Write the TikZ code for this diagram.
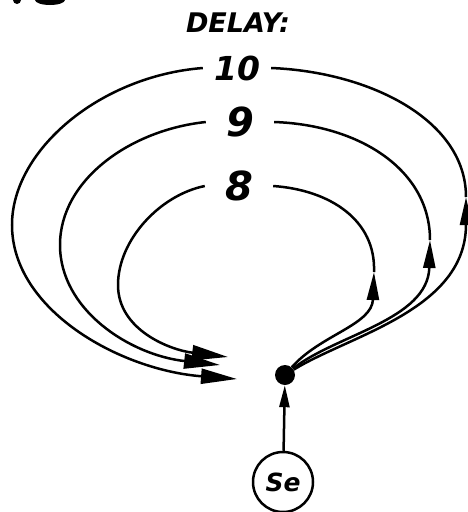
\documentclass[tikz,border=0pt]{standalone}
\usepackage{fontspec}
\setsansfont{DejaVu Sans}
\usetikzlibrary{arrows.meta}
\begin{document}
\begin{tikzpicture}[x=1pt,y=-1pt,
  curve/.style={line width=2.5pt},
  bigtip/.style={-{Triangle[length=36pt,width=15pt]}},
  midtip/.style={-{Triangle[length=28pt,width=12pt]}},
  uptip/.style={-{Triangle[length=22pt,width=10pt]}},
  lbl/.style={font=\sffamily\bfseries\itshape\fontsize{40}{40}\selectfont, inner sep=0pt, minimum width=68pt},
  ttl/.style={font=\sffamily\bfseries\itshape\fontsize{27}{27}\selectfont},
  hub/.style={circle, fill=black, minimum size=20pt, inner sep=0pt},
  src/.style={circle, draw, line width=2.5pt, minimum size=60pt, inner sep=0pt,
    font=\sffamily\bfseries\itshape\fontsize{25}{25}\selectfont}]
\useasboundingbox (0,0) rectangle (467,512);
% cropped fragment at top left
\fill (17,0) ellipse (4 and 4);
\fill (50,0) ellipse (15 and 5);
\node[ttl] (title) at (238,23) {DELAY:};
\node[lbl, font=\sffamily\bfseries\itshape\fontsize{33}{33}\selectfont] (d10) at (237,68) {10};
\node[lbl] (d9) at (240,122) {9};
\node[lbl] (d8) at (239,186) {8};
\node[hub] (hub) at (285,375) {};
\node[src] (se) at (283,482) {Se};
\coordinate (e10) at (237,379);
\coordinate (e9) at (220,365);
\coordinate (e8) at (228,357);
\coordinate (a10) at (466,197);
\coordinate (a9) at (430,240);
\coordinate (a8) at (374,272);
% left halves
\draw[curve,bigtip] (d10.west) .. controls (100,76) and (12,150) .. (12,225)
   .. controls (12,310) and (120,370) .. (e10);
\draw[curve,bigtip] (d9.west) .. controls (130,130) and (60,180) .. (60,245)
   .. controls (60,310) and (130,355) .. (e9);
\draw[curve,bigtip] (d8.west) .. controls (160,195) and (118,240) .. (118,285)
   .. controls (118,330) and (170,350) .. (e8);
% right halves
\draw[curve,midtip] (hub) .. controls (350,335) and (466,310) .. (a10);
\draw[curve] (a10) .. controls (466,120) and (370,72) .. (d10.east);
\draw[curve,midtip] (hub) .. controls (335,335) and (428,320) .. (a9);
\draw[curve] (a9) .. controls (430,170) and (360,125) .. (d9.east);
\draw[curve,midtip] (hub) .. controls (320,335) and (372,325) .. (a8);
\draw[curve] (a8) .. controls (376,220) and (330,190) .. (d8.east);
% vertical
\draw[curve,uptip] (se) -- (hub);
\end{tikzpicture}
\end{document}
